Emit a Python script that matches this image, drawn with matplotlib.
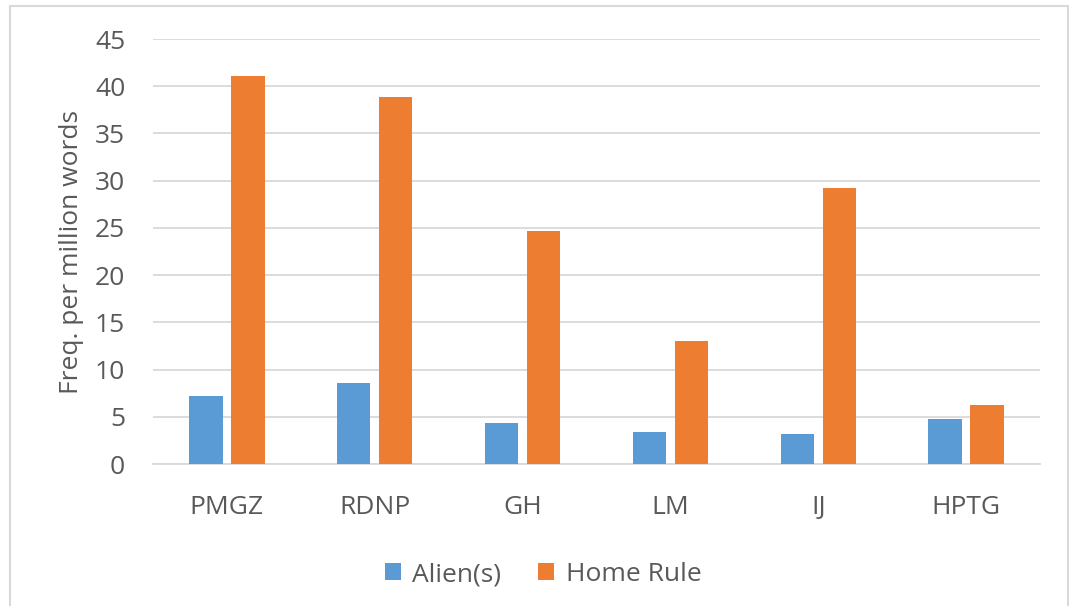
import numpy as np
import matplotlib.pyplot as plt
from matplotlib.lines import Line2D

# Frequency per million words by source
categories = ['PMGZ', 'RDNP', 'GH', 'LM', 'IJ', 'HPTG']
alien = [7.2, 8.6, 4.35, 3.4, 3.2, 4.75]
home_rule = [41.05, 38.9, 24.65, 13.0, 29.2, 6.3]
y_ticks = [0, 5, 10, 15, 20, 25, 30, 35, 40, 45]

plt.rcParams['font.family'] = ['Open Sans', 'DejaVu Sans']

blue = '#5B9BD5'
orange = '#ED7D31'
text_color = '#595959'
grid_color = '#D9D9D9'

fig = plt.figure(figsize=(10.69, 6.06), dpi=100)
ax = fig.add_axes([0.1431, 0.2343, 0.8298, 0.7013])

x = np.arange(len(categories))
width = 0.225
offset = 0.142
ax.bar(x - offset, alien, width, color=blue, label='Alien(s)', zorder=3)
ax.bar(x + offset, home_rule, width, color=orange, label='Home Rule', zorder=3)

ax.set_xlim(-0.5, len(categories) - 0.5)
ax.set_ylim(0, 45)
ax.set_yticks(y_ticks)
ax.set_xticks(x)
ax.set_xticklabels(categories)
ax.yaxis.grid(True, color=grid_color, linewidth=1.3, zorder=0)
ax.set_axisbelow(True)
for side in ['top', 'right', 'left']:
    ax.spines[side].set_visible(False)
ax.spines['bottom'].set_color(grid_color)
ax.spines['bottom'].set_linewidth(1.3)
ax.tick_params(axis='both', length=0, colors=text_color, labelsize=19)
ax.tick_params(axis='y', pad=20)
ax.tick_params(axis='x', pad=22)
ax.set_ylabel('Freq. per million words', fontsize=19, color=text_color, labelpad=8)

leg = ax.legend(loc='upper center', bbox_to_anchor=(0.44, -0.175), ncol=2,
                frameon=False, fontsize=19, handlelength=0.6, handleheight=0.6,
                columnspacing=1.4, handletextpad=0.45)
for t in leg.get_texts():
    t.set_color(text_color)

# light frame around the chart area
W, H = 1069, 606
for xs, ys in [((10, 10), (606, 6)), ((10, 1068), (6, 6)), ((1068, 1068), (6, 606))]:
    fig.add_artist(Line2D([v / W for v in xs], [1 - v / H for v in ys],
                          color=grid_color, linewidth=1.5, transform=fig.transFigure))

fig.savefig('out.png', dpi=100)
